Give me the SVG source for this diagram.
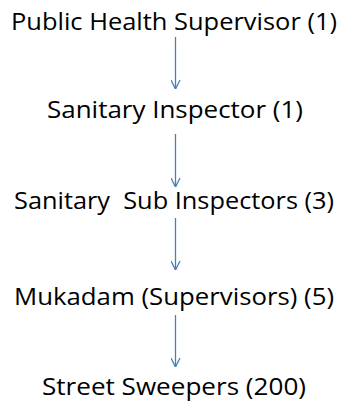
<svg xmlns="http://www.w3.org/2000/svg" width="342" height="402" viewBox="0 0 342 402">
<style>
text{font-family:"Open Sans","Noto Sans",sans-serif;font-size:23px;fill:#000;white-space:pre}
.c line{stroke:#4a7ebb;stroke-width:1.3;fill:none}
</style>
<defs>
<marker id="ah" viewBox="0 0 10 10" refX="10" refY="5" markerWidth="10" markerHeight="10" markerUnits="userSpaceOnUse" orient="auto">
<path d="M1,0.5 L10,5 L1,9.5" fill="none" stroke="#4a7ebb" stroke-width="1.3"/>
</marker>
</defs>
<rect width="342" height="402" fill="#fff"/>
<g class="c" id="connectors">
<line x1="175.5" y1="37" x2="175.5" y2="89" marker-end="url(#ah)"/>
<line x1="175.5" y1="134" x2="175.5" y2="187" marker-end="url(#ah)"/>
<line x1="175.5" y1="218" x2="175.5" y2="270" marker-end="url(#ah)"/>
<line x1="175.5" y1="315" x2="175.5" y2="367" marker-end="url(#ah)"/>
</g>
<g id="n1"><text x="11" y="29.5" textLength="326" lengthAdjust="spacingAndGlyphs">Public Health Supervisor (1)</text></g>
<g id="n2"><text x="47" y="118" textLength="256" lengthAdjust="spacingAndGlyphs">Sanitary Inspector (1)</text></g>
<g id="n3"><text x="14" y="209" xml:space="preserve" textLength="320" lengthAdjust="spacingAndGlyphs">Sanitary  Sub Inspectors (3)</text></g>
<g id="n4"><text x="14" y="305" textLength="320" lengthAdjust="spacingAndGlyphs">Mukadam (Supervisors) (5)</text></g>
<g id="n5"><text x="42" y="395" textLength="264" lengthAdjust="spacingAndGlyphs">Street Sweepers (200)</text></g>
</svg>
